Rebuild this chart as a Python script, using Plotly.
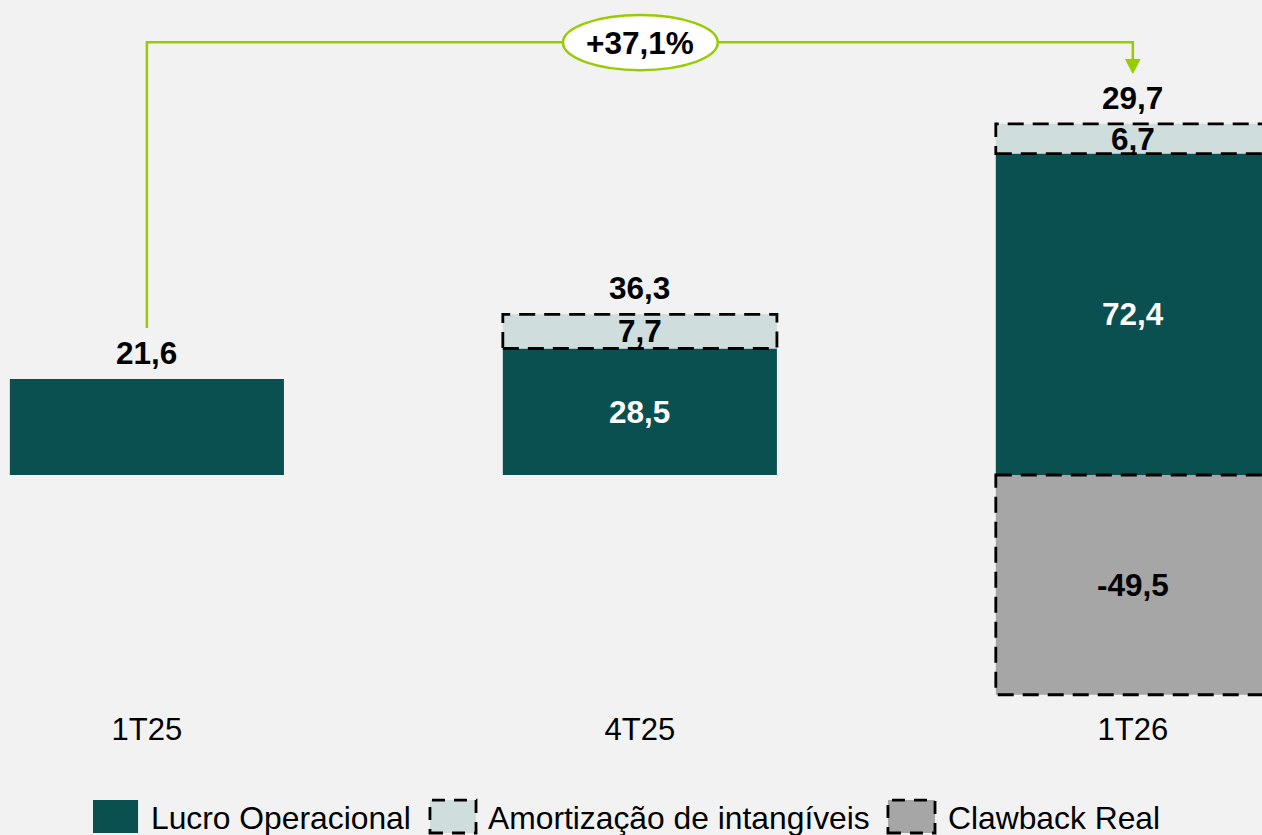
import plotly.graph_objects as go

categories = ["1T25", "4T25", "1T26"]
lucro = [21.6, 28.5, 72.4]
amort = [None, 7.7, 6.7]
clawback = [None, None, -49.5]
totals = [21.6, 36.3, 29.7]
growth_label = "+37,1%"
legend_names = ["Lucro Operacional", "Amortização de intangíveis", "Clawback Real"]

C_LUCRO = "#0B5050"
C_AMORT = "#CFDDDC"
C_CLAW = "#A6A6A6"
C_GREEN = "#99CC00"
FONT = "Liberation Sans"
BAR_W = 0.556


def fmt(v):
    return f"{v:.1f}".replace(".", ",")


fig = go.Figure()
fig.add_trace(go.Bar(x=categories, y=lucro, marker=dict(color=C_LUCRO, line=dict(width=0)),
                     name=legend_names[0], width=BAR_W, hoverinfo="skip"))
fig.add_trace(go.Bar(x=categories, y=amort, marker=dict(color=C_AMORT, line=dict(width=0)),
                     name=legend_names[1], width=BAR_W, hoverinfo="skip"))
fig.add_trace(go.Bar(x=categories, y=clawback, marker=dict(color=C_CLAW, line=dict(width=0)),
                     name=legend_names[2], width=BAR_W, hoverinfo="skip"))

shapes = []
annotations = []
dash = "16px,9px"
LBL = 31.5
for i in range(len(categories)):
    x0, x1 = i - BAR_W / 2, i + BAR_W / 2
    base = lucro[i] or 0
    top = base
    if i > 0:
        annotations.append(dict(x=i, y=base / 2, xref="x", yref="y", text=fmt(base), showarrow=False,
                                font=dict(family=FONT, size=LBL, color="white", weight="bold"),
                                yanchor="middle"))
    if amort[i] is not None:
        a = amort[i]
        shapes.append(dict(type="rect", xref="x", yref="y", x0=x0, x1=x1, y0=base, y1=base + a,
                           line=dict(color="black", width=2.8, dash=dash), fillcolor="rgba(0,0,0,0)"))
        annotations.append(dict(x=i, y=base + a / 2, xref="x", yref="y", text=fmt(a), showarrow=False,
                                font=dict(family=FONT, size=LBL, color="black", weight="bold"),
                                yanchor="middle"))
        top = base + a
    if clawback[i] is not None:
        c = clawback[i]
        shapes.append(dict(type="rect", xref="x", yref="y", x0=x0, x1=x1, y0=0, y1=c,
                           line=dict(color="black", width=2.8, dash=dash), fillcolor="rgba(0,0,0,0)"))
        annotations.append(dict(x=i, y=c / 2, xref="x", yref="y", text=fmt(c), showarrow=False,
                                font=dict(family=FONT, size=LBL, color="black", weight="bold"),
                                yanchor="middle"))
    annotations.append(dict(x=i, y=top, xref="x", yref="y", text=fmt(totals[i]), showarrow=False,
                            font=dict(family=FONT, size=LBL, color="black", weight="bold"),
                            yanchor="bottom", yshift=6))

# growth bracket
y_line = 97.5
shapes.append(dict(type="path", xref="x", yref="y",
                   path=f"M 0,33.1 L 0,{y_line} L 2,{y_line} L 2,93.2",
                   line=dict(color=C_GREEN, width=2.5)))
shapes.append(dict(type="path", xref="x", yref="y",
                   path="M 1.9855,93.6 L 2.0145,93.6 L 2,90.5 Z",
                   fillcolor=C_GREEN, line=dict(color=C_GREEN, width=1)))
shapes.append(dict(type="circle", xref="x", yref="y", x0=0.844, x1=1.158, y0=91.2, y1=103.6,
                   fillcolor="white", line=dict(color=C_GREEN, width=2.5)))
annotations.append(dict(x=1, y=97.3, xref="x", yref="y", text=growth_label, showarrow=False,
                        font=dict(family=FONT, size=LBL, color="black", weight="bold"), yanchor="middle"))

# custom legend
leg_y0, leg_y1 = -0.143, -0.19
sw = [(0.0737, 0.1094, C_LUCRO, False), (0.3407, 0.3772, C_AMORT, True), (0.7036, 0.7409, C_CLAW, True)]
txt_x = [0.1180, 0.3850, 0.7495]
for (a, b, col, dashed), tx, name in zip(sw, txt_x, legend_names):
    shapes.append(dict(type="rect", xref="paper", yref="paper", x0=a, x1=b, y0=leg_y1, y1=leg_y0,
                       fillcolor=col,
                       line=dict(color="black", width=2.8, dash="13px,9px") if dashed else dict(width=0)))
    annotations.append(dict(x=tx, y=-0.1686, xref="paper", yref="paper", text=name, showarrow=False,
                            xanchor="left", yanchor="middle",
                            font=dict(family=FONT, size=31.8, color="black")))

fig.update_layout(
    width=1262, height=835,
    barmode="relative", bargap=1 - BAR_W,
    paper_bgcolor="#F2F2F2", plot_bgcolor="#F2F2F2",
    margin=dict(l=0, r=0, t=0, b=135),
    showlegend=False,
    shapes=shapes, annotations=annotations,
    xaxis=dict(type="category", categoryorder="array", categoryarray=categories,
               range=[-0.298, 2.262], showgrid=False, zeroline=False, showline=False, ticks="",
               tickfont=dict(family=FONT, size=31, color="black"), ticklabelstandoff=8,
               fixedrange=True),
    yaxis=dict(visible=False, range=[-50.68, 107.0], fixedrange=True),
)

fig.write_html("out.html", config={"displayModeBar": False},
               post_script="document.body.style.margin='0';document.body.style.overflow='hidden';document.documentElement.style.background='#F2F2F2';")
